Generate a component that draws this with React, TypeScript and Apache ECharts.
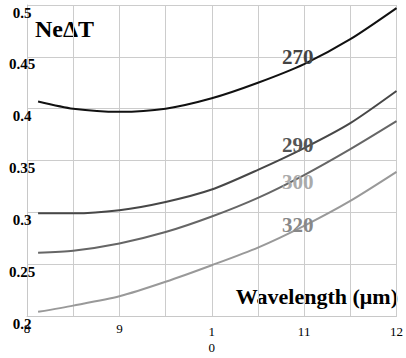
import React, { useEffect, useRef } from "react";
import * as echarts from "echarts";

const wavelengths = [8.12, 8.5, 9, 9.5, 10, 10.5, 11, 11.5, 12];
const seriesNames = ["270", "290", "300", "320"];
const netd270 = [0.407, 0.4, 0.397, 0.4, 0.41, 0.425, 0.443, 0.467, 0.497];
const netd290 = [0.299, 0.299, 0.302, 0.31, 0.322, 0.341, 0.362, 0.386, 0.417];
const netd300 = [0.261, 0.263, 0.27, 0.281, 0.296, 0.314, 0.336, 0.361, 0.388];
const netd320 = [0.204, 0.21, 0.219, 0.233, 0.249, 0.266, 0.287, 0.311, 0.339];
const xTickValues = [8, 9, 10, 11, 12];
const xTickLabels = ["8", "9", "1\n0", "11", "12"];
const yTickValues = [0.2, 0.25, 0.3, 0.35, 0.4, 0.45, 0.5];
const yTickLabels = ["0.2", "0.25", "0.3", "0.35", "0.4", "0.45", "0.5"];
const curveLabelX = [10.93, 10.93, 10.93, 10.93];
const curveLabelY = [0.45, 0.365, 0.329, 0.288];

const lineColors = ["#111111", "#474747", "#666666", "#999999"];
const labelColors = ["#444444", "#555555", "#aaaaaa", "#888888"];
const SERIF = "Liberation Serif";

export default function App() {
  const ref = useRef<HTMLDivElement>(null);
  useEffect(() => {
    const chart = echarts.init(ref.current!, null, { renderer: "svg" });
    const allData = [netd270, netd290, netd300, netd320];
    chart.setOption({
      animation: false,
      textStyle: { fontFamily: SERIF },
      grid: { left: 27, right: 6, top: 5, bottom: 42, containLabel: false },
      xAxis: {
        type: "value",
        min: 8,
        max: 12,
        interval: 0.5,
        axisLine: { show: true, lineStyle: { color: "#c8c8c8", width: 1 } },
        axisTick: { show: false },
        splitLine: { show: true, lineStyle: { color: "#cccccc", width: 1 } },
        axisLabel: {
          margin: 4,
          fontFamily: SERIF,
          fontSize: 13,
          color: "#000",
          lineHeight: 16,
          formatter: (v: number) => {
            const i = xTickValues.findIndex((t) => Math.abs(t - v) < 1e-6);
            if (i < 0) return "";
            const lbl = xTickLabels[i];
            return v < 9.5 ? `{a|${lbl}}` : `{b|${lbl}}`;
          },
          rich: {
            a: { fontFamily: SERIF, fontSize: 13, lineHeight: 16, color: "#000" },
            b: { fontFamily: SERIF, fontSize: 13, lineHeight: 16, color: "#000", padding: [6, 0, 0, 0] },
          },
        },
      },
      yAxis: {
        type: "value",
        min: 0.2,
        max: 0.5,
        interval: 0.05,
        axisLine: { show: true, lineStyle: { color: "#c8c8c8", width: 1 } },
        axisTick: { show: false },
        splitLine: { show: true, lineStyle: { color: "#cccccc", width: 1 } },
        axisLabel: {
          margin: 5,
          align: "center",
          verticalAlign: "top",
          fontFamily: SERIF,
          fontWeight: "bold",
          fontSize: 15,
          color: "#000",
          formatter: (v: number) => {
            const i = yTickValues.findIndex((t) => Math.abs(t - v) < 1e-6);
            return i < 0 ? "" : yTickLabels[i];
          },
        },
      },
      series: allData.map((d, k) => ({
        type: "line",
        name: seriesNames[k],
        data: wavelengths.map((x, i) => [x, d[i]]),
        smooth: 0.25,
        showSymbol: false,
        symbol: "none",
        lineStyle: { color: lineColors[k], width: 2 },
        z: 3,
        markPoint: {
          symbol: "circle",
          symbolSize: 0,
          silent: true,
          data: [
            {
              coord: [curveLabelX[k], curveLabelY[k]],
              label: {
                show: true,
                position: "inside",
                formatter: seriesNames[k],
                fontFamily: SERIF,
                fontWeight: "bold",
                fontSize: 21,
                color: labelColors[k],
              },
            },
          ],
        },
      })),
      graphic: [
        {
          type: "text",
          x: 35,
          y: 29,
          style: {
            text: "NeΔT",
            fontFamily: SERIF,
            fontWeight: "bold",
            fontSize: 24,
            fill: "#000",
            align: "left",
            verticalAlign: "middle",
          },
        },
        {
          type: "text",
          x: 398,
          y: 296,
          style: {
            text: "Wavelength (μm)",
            fontFamily: SERIF,
            fontWeight: "bold",
            fontSize: 22,
            fill: "#000",
            align: "right",
            verticalAlign: "middle",
          },
        },
      ],
    });
    return () => chart.dispose();
  }, []);
  return <div ref={ref} style={{ width: 406, height: 358, position: "absolute", left: 0, top: 0 }} />;
}
